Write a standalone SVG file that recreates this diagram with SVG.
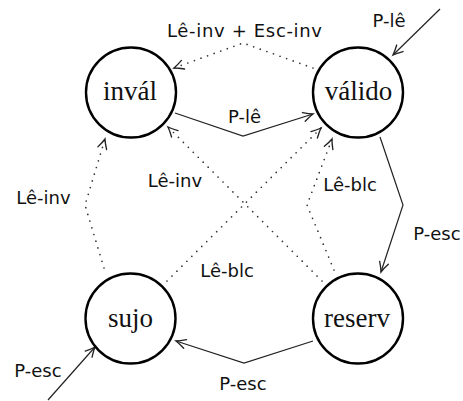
<svg xmlns="http://www.w3.org/2000/svg" width="463" height="401" viewBox="0 0 463 401">
<defs>
<marker id="arr" markerUnits="userSpaceOnUse" orient="auto" refX="0" refY="0" markerWidth="12" markerHeight="12" viewBox="-9 -5 10 10" overflow="visible">
<path d="M -8 -3.8 Q -3 -1 0 0 Q -3 1 -8 3.8" fill="none" stroke="#222" stroke-width="1.1" stroke-linecap="round"/>
</marker>
</defs>
<style>
.node{fill:#fff;stroke:#000;stroke-width:2.4}
.nl{font-family:"Liberation Serif",serif;font-size:27px;fill:#111;text-anchor:middle}
.el{font-family:"DejaVu Sans",sans-serif;font-size:18px;fill:#111;text-anchor:middle}
.solid{fill:none;stroke:#222;stroke-width:1.2;marker-end:url(#arr)}
.dot{fill:none;stroke:#333;stroke-width:1.7;stroke-dasharray:0 7;stroke-linecap:round;marker-end:url(#arr)}
</style>
<rect width="463" height="401" fill="#fff"/>
<g id="connectors">
<path class="solid" d="M 175 113 L 243 136 L 313 114"/>
<path class="solid" d="M 313 341 L 244 363 L 176 341"/>
<path class="solid" d="M 380 137 L 403 205 L 381 272"/>
<path class="solid" d="M 440 9 L 393 55"/>
<path class="solid" d="M 48 400 L 95 347"/>
<path class="dot" d="M 313 68 L 243 43 L 174 68"/>
<path class="dot" d="M 104 268 L 85 205 L 105 139"/>
<path class="dot" d="M 334 270 L 307 205 L 332 139"/>
<path class="dot" d="M 322 281 L 168 127"/>
<path class="dot" d="M 167 281 L 321 128"/>
</g>
<g id="labels">
<text class="el" x="244.5" y="37" textLength="155" lengthAdjust="spacing">Lê-inv + Esc-inv</text>
<text class="el" x="389" y="27">P-lê</text>
<text class="el" x="244.5" y="123">P-lê</text>
<text class="el" x="43.5" y="204">Lê-inv</text>
<text class="el" x="175" y="187">Lê-inv</text>
<text class="el" x="350" y="191">Lê-blc</text>
<text class="el" x="437" y="240">P-esc</text>
<text class="el" x="227" y="277">Lê-blc</text>
<text class="el" x="243" y="390">P-esc</text>
<text class="el" x="38" y="377">P-esc</text>
</g>
<g id="inval">
<circle class="node" cx="131" cy="92.5" r="45"/>
<text class="nl" x="130" y="100">invál</text>
</g>
<g id="valido">
<circle class="node" cx="358" cy="92.5" r="45"/>
<text class="nl" x="358.5" y="100">válido</text>
</g>
<g id="sujo">
<circle class="node" cx="130.5" cy="318.5" r="45"/>
<text class="nl" x="130.5" y="327">sujo</text>
</g>
<g id="reserv">
<circle class="node" cx="358" cy="318.5" r="45"/>
<text class="nl" x="357" y="327">reserv</text>
</g>
</svg>
